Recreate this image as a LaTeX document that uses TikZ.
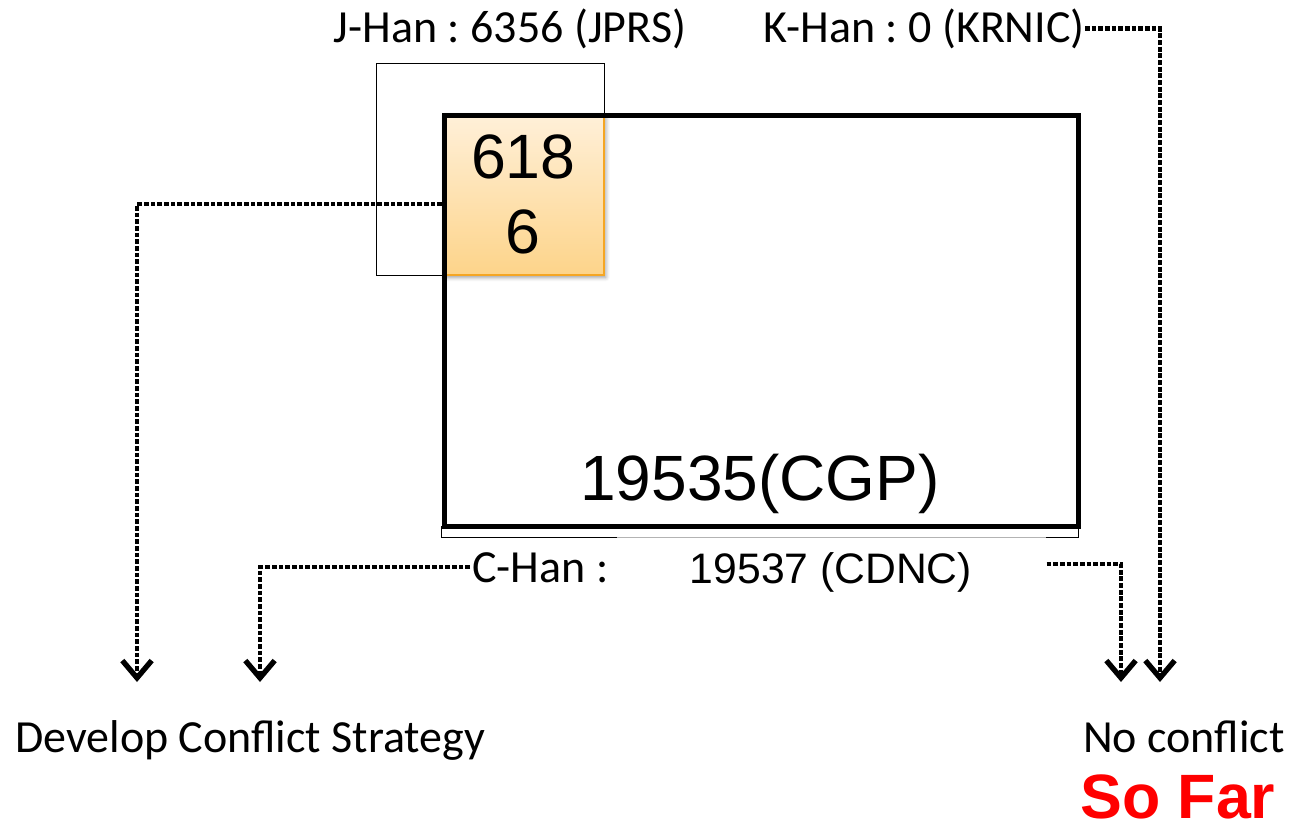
\documentclass[tikz,border=0pt]{standalone}
\usepackage{fontspec}
\setmainfont{Carlito}
\newfontfamily\arialf{Liberation Sans}
\usetikzlibrary{arrows.meta,shadows.blur}
\definecolor{orTop}{HTML}{FFF0D9}
\definecolor{orBot}{HTML}{FDD48A}
\definecolor{orLine}{HTML}{F5A623}
\definecolor{soRed}{HTML}{FF0000}
\frenchspacing
\begin{document}
\begin{tikzpicture}[x=0.75pt,y=-0.75pt,
  conn/.style={line width=3.2pt, dash pattern=on 3.6pt off 1.4pt,
    -{Straight Barb[length=13pt,width=22pt,line width=4pt]}},
  cal/.style={font=\fontsize{34.5}{40}\selectfont, inner sep=0pt},
  frame/.style={draw, inner sep=0pt, anchor=north west}]
\useasboundingbox (0,0) rectangle (1297,832);

% boxes
\node[frame, line width=1.1pt, minimum width=171pt, minimum height=159pt] (jbox) at (376,63) {};
\node[frame, line width=1.1pt, minimum width=477.75pt, minimum height=8.25pt] (cbox) at (441,526) {};
\node[frame, draw=orLine, line width=1.2pt, top color=orTop, bottom color=orBot,
      minimum width=120.75pt, minimum height=120.75pt,
      blur shadow={shadow xshift=1.5pt, shadow yshift=-2pt, shadow blur radius=3pt, shadow opacity=40}] (orange) at (442,113) {};
\node[frame, line width=3.75pt, minimum width=475.5pt, minimum height=308.25pt] (main) at (442,113) {};
\node[fill=white, fill opacity=0.7, inner sep=0pt, anchor=north west,
      minimum width=321.75pt, minimum height=40.5pt] (cdncbg) at (617,537) {};

% texts
\node[font=\arialf\fontsize{47}{56}\selectfont, align=center, inner sep=0pt] (ortext) at (orange.center) {618\\6};
\node[font=\arialf\fontsize{48}{56}\selectfont, anchor=base, inner sep=0pt] (cgp) at (760,500) {19535(CGP)};
\node[cal, anchor=base] (jhan) at (510,42) {J-Han : 6356 (JPRS)};
\node[cal, anchor=base] (khan) at (924,42) {K-Han : 0 (KRNIC)};
\node[cal, anchor=base west, inner xsep=1.5pt] (chan) at (470,582) {C-Han :};
\node[font=\arialf\fontsize{32}{38}\selectfont, anchor=base, inner sep=0pt] (cdnc) at (831,583) {19537 (CDNC)};
\node[cal, anchor=base west] (dev) at (15,752) {Develop Conflict Strategy};
\node[cal, anchor=base west] (noc) at (1083,752) {No conflict};
\node[font=\arialf\bfseries\fontsize{47}{56}\selectfont, text=soRed, anchor=base west, inner sep=0pt] (sofar) at (1080,818) {So Far};

% targets
\coordinate (a1) at (137,682);
\coordinate (a2) at (260,682);
\coordinate (a3) at (1121,682);
\coordinate (a4) at (1160,682);

% connectors
\draw[conn] ([yshift=-7.5pt]orange.west) -| (a1);
\draw[conn] (chan.west) -| (a2);
\draw[conn] (cdncbg.east) -| (a3);
\draw[conn] (khan.east) -| (a4);
\end{tikzpicture}
\end{document}
